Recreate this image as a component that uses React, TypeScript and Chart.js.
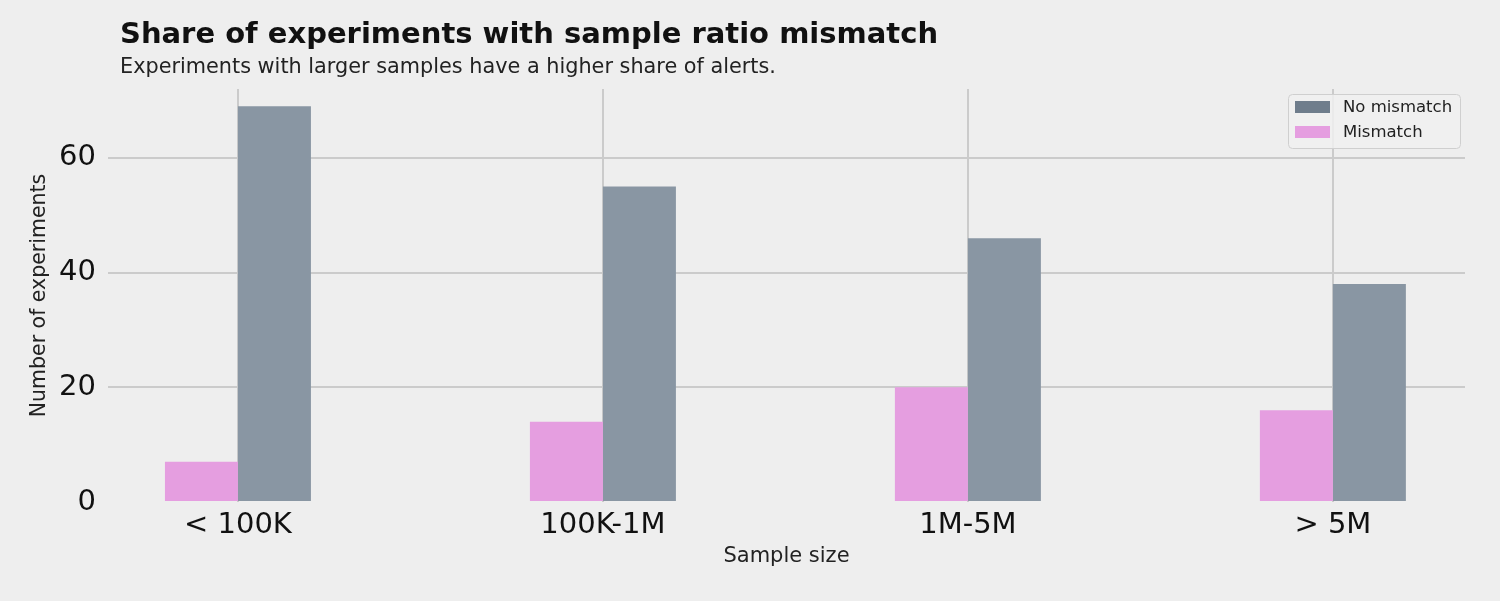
import React, { useEffect, useRef } from "react";
import { Chart, registerables } from "chart.js";

Chart.register(...registerables);

const categories = ["< 100K", "100K-1M", "1M-5M", "> 5M"];
const mismatch = [7, 14, 20, 16];
const noMismatch = [69, 55, 46, 38];
const yTicks = [0, 20, 40, 60];
const titleText = "Share of experiments with sample ratio mismatch";
const subtitleText = "Experiments with larger samples have a higher share of alerts.";

const FONT = "'DejaVu Sans', sans-serif";
const GRAY_BAR = "#8996a3";
const PINK_BAR = "#e59ee0";
const GRAY_LEGEND = "#6f7d8c";
const PINK_LEGEND = "#e59ee0";

const decorPlugin = {
  id: "decor",
  afterDraw(chart: any) {
    const ctx = chart.ctx;
    const area = chart.chartArea;
    ctx.save();
    // title + subtitle
    ctx.fillStyle = "#111";
    ctx.textAlign = "left";
    ctx.textBaseline = "alphabetic";
    ctx.font = `bold 29px ${FONT}`;
    ctx.fillText(titleText, area.left + 12, 43);
    ctx.fillStyle = "#222";
    ctx.font = `20.8px ${FONT}`;
    ctx.fillText(subtitleText, area.left + 12, 73);

    // legend
    const lx = area.right - 177;
    const ly = area.top + 5;
    const lw = 172;
    const lh = 54;
    ctx.beginPath();
    (ctx as any).roundRect(lx + 0.5, ly + 0.5, lw, lh, 4);
    ctx.fillStyle = "rgba(240,240,240,0.85)";
    ctx.fill();
    ctx.strokeStyle = "#cfcfcf";
    ctx.lineWidth = 1;
    ctx.stroke();
    const entries = [
      { label: chart.data.datasets[1].label, color: GRAY_LEGEND },
      { label: chart.data.datasets[0].label, color: PINK_LEGEND },
    ];
    ctx.font = `16.5px ${FONT}`;
    ctx.textBaseline = "middle";
    entries.forEach((e, i) => {
      const cy = ly + 13 + i * 25;
      ctx.fillStyle = e.color;
      ctx.fillRect(lx + 7, cy - 6, 35, 12);
      ctx.fillStyle = "#222";
      ctx.fillText(e.label, lx + 55, cy + 1);
    });
    ctx.restore();
  },
};

export default function App() {
  const ref = useRef<HTMLCanvasElement | null>(null);

  useEffect(() => {
    if (!ref.current) return;
    const chart = new Chart(ref.current, {
      type: "bar",
      data: {
        datasets: [
          {
            label: "Mismatch",
            data: mismatch.map((v, i) => ({ x: i, y: v })),
            backgroundColor: PINK_BAR,
            borderWidth: 0,
            categoryPercentage: 0.4,
            barPercentage: 1.0,
          },
          {
            label: "No mismatch",
            data: noMismatch.map((v, i) => ({ x: i, y: v })),
            backgroundColor: GRAY_BAR,
            borderWidth: 0,
            categoryPercentage: 0.4,
            barPercentage: 1.0,
          },
        ],
      },
      options: {
        animation: false,
        responsive: false,
        maintainAspectRatio: false,
        layout: { padding: { left: 0, right: 35, top: 89, bottom: 0 } },
        plugins: {
          legend: { display: false },
          tooltip: { enabled: false },
          title: { display: false },
        },
        scales: {
          x: {
            type: "linear",
            min: -0.356,
            max: 3.362,
            offset: false,
            afterBuildTicks: (scale: any) => {
              scale.ticks = categories.map((_, i) => ({ value: i }));
            },
            afterFit: (scale: any) => {
              scale.height = 99;
            },
            border: { display: false },
            grid: { color: "#cbcbcb", lineWidth: 2, drawTicks: false, offset: false },
            ticks: {
              callback: (v: any) => categories[Math.round(Number(v))] ?? "",
              font: { family: FONT, size: 29 },
              color: "#111",
              padding: 6,
              maxRotation: 0,
              autoSkip: false,
            },
            title: {
              display: true,
              text: "Sample size",
              font: { family: FONT, size: 21 },
              color: "#222",
              padding: { top: 0, bottom: 32 },
            },
          },
          y: {
            min: 0,
            max: 72,
            afterBuildTicks: (scale: any) => {
              scale.ticks = yTicks.map((v) => ({ value: v }));
            },
            afterFit: (scale: any) => {
              scale.width = 108;
            },
            border: { display: false },
            grid: {
              color: (c: any) => (c.tick && c.tick.value === 0 ? "rgba(0,0,0,0)" : "#cbcbcb"),
              lineWidth: 2,
              drawTicks: false,
            },
            ticks: {
              font: { family: FONT, size: 29 },
              color: "#111",
              padding: 12,
            },
            title: {
              display: true,
              text: "Number of experiments",
              font: { family: FONT, size: 20.5 },
              color: "#222",
              padding: { top: 27, bottom: 0 },
            },
          },
        },
      },
      plugins: [decorPlugin],
    });
    return () => chart.destroy();
  }, []);

  return (
    <div
      style={{
        position: "fixed",
        left: 0,
        top: 0,
        width: 1500,
        height: 601,
        background: "#eeeeee",
      }}
    >
      <canvas ref={ref} width={1500} height={601} style={{ display: "block" }} />
    </div>
  );
}
